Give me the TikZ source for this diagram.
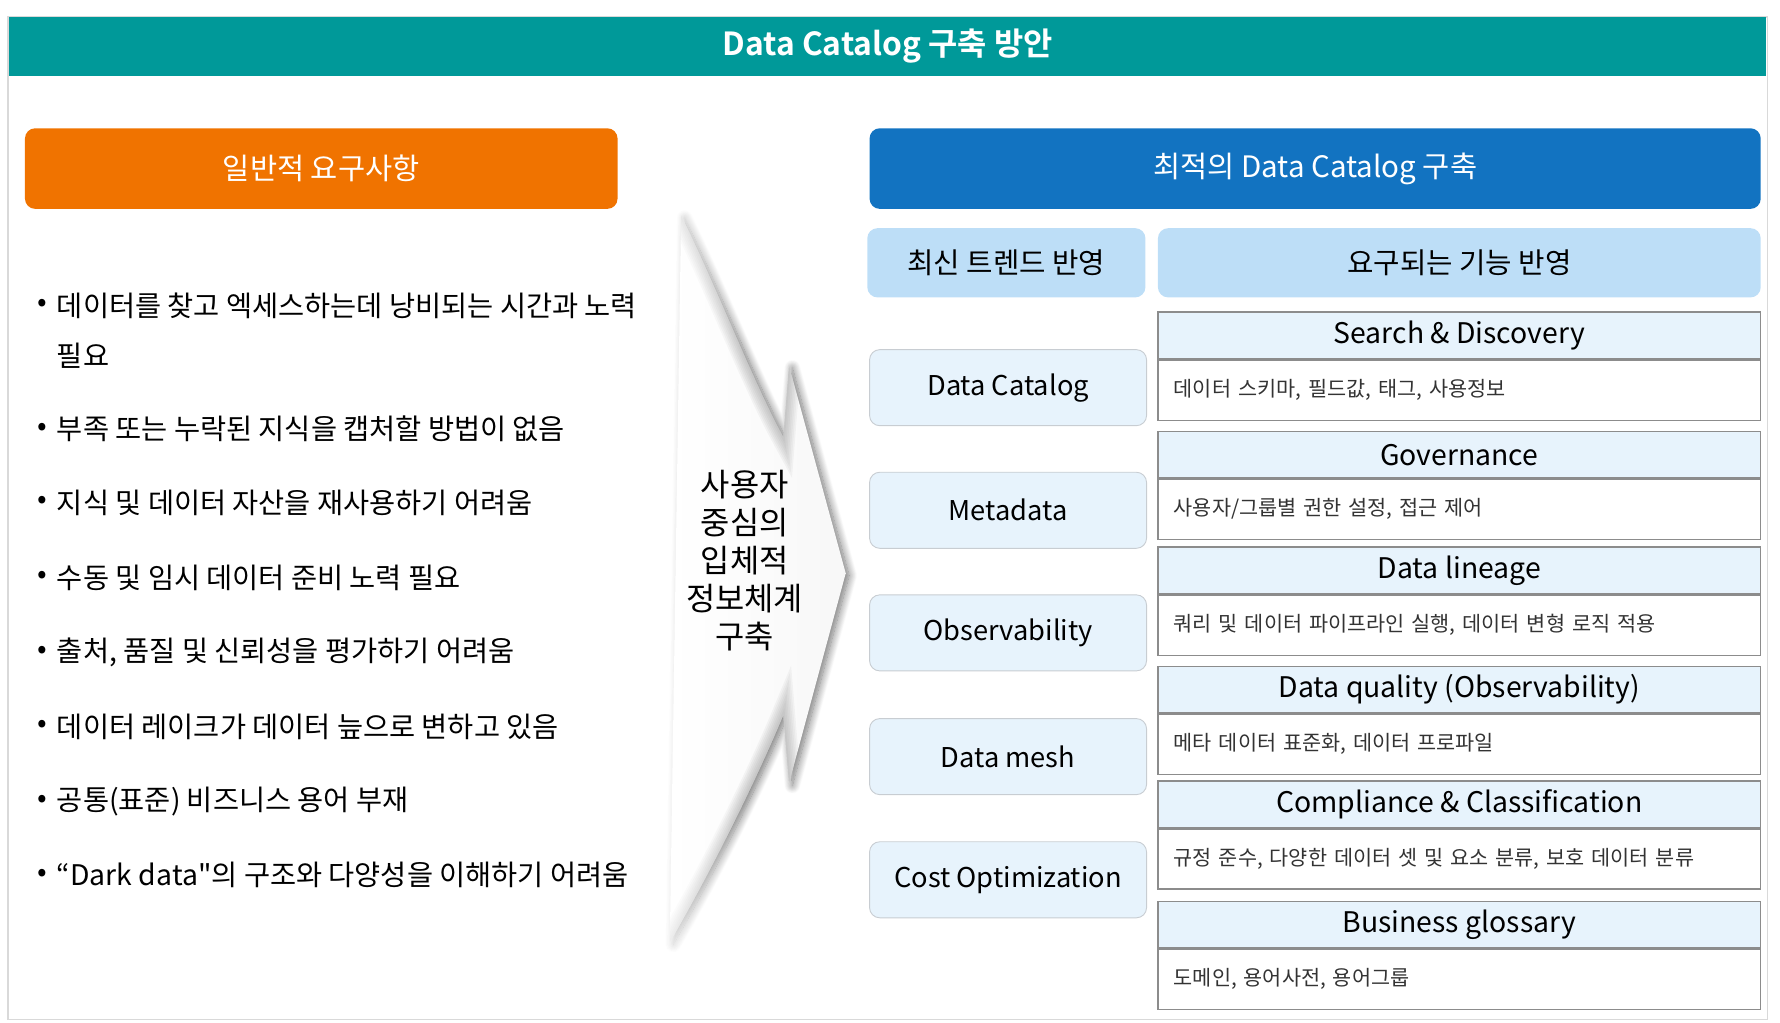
\documentclass[tikz,border=0pt]{standalone}
\usepackage{fontspec}
\setmainfont{Noto Sans CJK KR}[BoldFont={Noto Sans CJK KR Bold}, Ligatures=TeXOff]
\usetikzlibrary{positioning, shadows, shadows.blur, fadings}

\definecolor{titleteal}{HTML}{009999}
\definecolor{reqorange}{HTML}{F07300}
\definecolor{catblue}{HTML}{1273C1}
\definecolor{subblue}{HTML}{BDDEF7}
\definecolor{paleblue}{HTML}{E7F3FC}
\definecolor{featline}{HTML}{8C8C8C}
\definecolor{trendline}{HTML}{C8CDD2}
\definecolor{darktext}{HTML}{333333}

\tikzfading[name=fadeoutright, left color=transparent!0, right color=transparent!100]

\tikzset{
  mainhdr/.style={rounded corners=9pt, minimum height=71pt, text=white,
    font=\fontsize{26}{30}\selectfont},
  subhdr/.style={fill=subblue, rounded corners=9pt, minimum height=61pt,
    font=\fontsize{25.3}{29}\selectfont},
  trendbox/.style={fill=paleblue, draw=trendline, line width=0.8pt,
    rounded corners=9pt, minimum width=244pt, minimum height=67pt,
    font=\fontsize{24}{28}\selectfont},
  feathead/.style={fill=paleblue, draw=featline, line width=1.2pt,
    minimum width=531pt, minimum height=41pt, inner sep=0pt,
    font=\fontsize{25}{28}\selectfont},
  featdesc/.style={fill=white, draw=featline, line width=1.2pt,
    minimum height=53pt, inner xsep=14pt, text width=503pt, align=left,
    text=darktext, font=\fontsize{18.3}{21}\selectfont},
  dotmark/.style={font=\fontsize{25}{28}\selectfont, inner sep=0pt},
  bullettext/.style={anchor=west, inner sep=0pt, font=\fontsize{25}{28}\selectfont},
  foldband/.style={gray, opacity=0.07, line cap=round}
}

\begin{document}
\begin{tikzpicture}[x=1pt, y=-1pt]
  \useasboundingbox (0,0) rectangle (1568,901);
  \draw[gray!30, line width=1.5pt] (7,15) rectangle (1557,898);

  % title
  \node[fill=titleteal, text=white, minimum width=1548pt, minimum height=52pt,
        font=\fontsize{28}{32}\selectfont\bfseries] (title) at (782,41)
    {Data Catalog 구축 방안};

  % left: requirements
  \node[mainhdr, fill=reqorange, minimum width=522pt] (req) at (283,148.5)
    {일반적 요구사항};
  \foreach \y/\txt [count=\i] in {
      269/{데이터를 찾고 엑세스하는데 낭비되는 시간과 노력},
      378/{부족 또는 누락된 지식을 캡처할 방법이 없음},
      443/{지식 및 데이터 자산을 재사용하기 어려움},
      509/{수동 및 임시 데이터 준비 노력 필요},
      575/{출처, 품질 및 신뢰성을 평가하기 어려움},
      640/{데이터 레이크가 데이터 늪으로 변하고 있음},
      706/{공통(표준) 비즈니스 용어 부재},
      771/{“Dark data"의 구조와 다양성을 이해하기 어려움}} {
    \node[dotmark] (dot\i) at (37,\y) {•};
    \node[bullettext] (item\i) at (50,\y) {\txt};
  }
  \node[bullettext] (item1b) at (50,313) {필요};

  % middle arrow
  \path[blur shadow={shadow xshift=3pt, shadow yshift=-2pt,
        shadow blur radius=7pt, shadow blur steps=14, shadow opacity=55},
        left color=white, right color=gray!6]
    (600,190) .. controls (630,250) and (665,340) .. (690,385)
    -- (695,322) -- (745,505) -- (695,690) -- (690,630)
    .. controls (665,690) and (625,770) .. (590,830) -- cycle;
  \begin{scope}
    \clip (600,190) .. controls (630,250) and (665,340) .. (690,385)
      -- (695,322) -- (745,505) -- (695,690) -- (690,630)
      .. controls (665,690) and (625,770) .. (590,830) -- cycle;
    \foreach \w in {3,6,...,21} {
      \draw[foldband, line width=\w pt]
        (600,190) .. controls (630,250) and (665,340) .. (690,385) -- (695,322);
      \draw[foldband, line width=\w pt]
        (695,690) -- (690,630) .. controls (665,690) and (625,770) .. (590,830);
    }
  \end{scope}
  \fill[white, path fading=fadeoutright] (560,175) rectangle (655,850);
  \node[align=center, font=\fontsize{28}{33.5}\selectfont] (center) at (656,494)
    {사용자\\중심의\\입체적\\정보체계\\구축};

  % right: catalog
  \node[mainhdr, fill=catblue, minimum width=785pt] (cat) at (1158.5,148.5)
    {최적의 Data Catalog 구축};
  \node[subhdr, minimum width=245pt] (trend) at (886.5,231.5) {최신 트렌드 반영};
  \node[subhdr, minimum width=531pt] (feat) at (1285.5,231.5) {요구되는 기능 반영};

  \foreach \y/\name/\txt in {341.5/dc/Data Catalog, 449.5/md/Metadata,
      557.5/obs/Observability, 666.5/mesh/Data mesh, 775/cost/Cost Optimization}
    \node[trendbox] (\name) at (888,\y) {\txt};

  \foreach \top/\name/\head/\desc in {
      275/sd/{Search \& Discovery}/{데이터 스키마, 필드값, 태그, 사용정보},
      380/gov/Governance/{사용자/그룹별 권한 설정, 접근 제어},
      482/lin/Data lineage/{쿼리 및 데이터 파이프라인 실행, 데이터 변형 로직 적용},
      587/dq/Data quality (Observability)/{메타 데이터 표준화, 데이터 프로파일},
      688/comp/{Compliance \& Classification}/{규정 준수, 다양한 데이터 셋 및 요소 분류, 보호 데이터 분류},
      794/bg/Business glossary/{도메인, 용어사전, 용어그룹}} {
    \node[feathead] (\name-h) at (1285.5,\top+20.5) {\head};
    \node[featdesc, below=0pt of \name-h] (\name-d) {\desc};
  }
\end{tikzpicture}
\end{document}
